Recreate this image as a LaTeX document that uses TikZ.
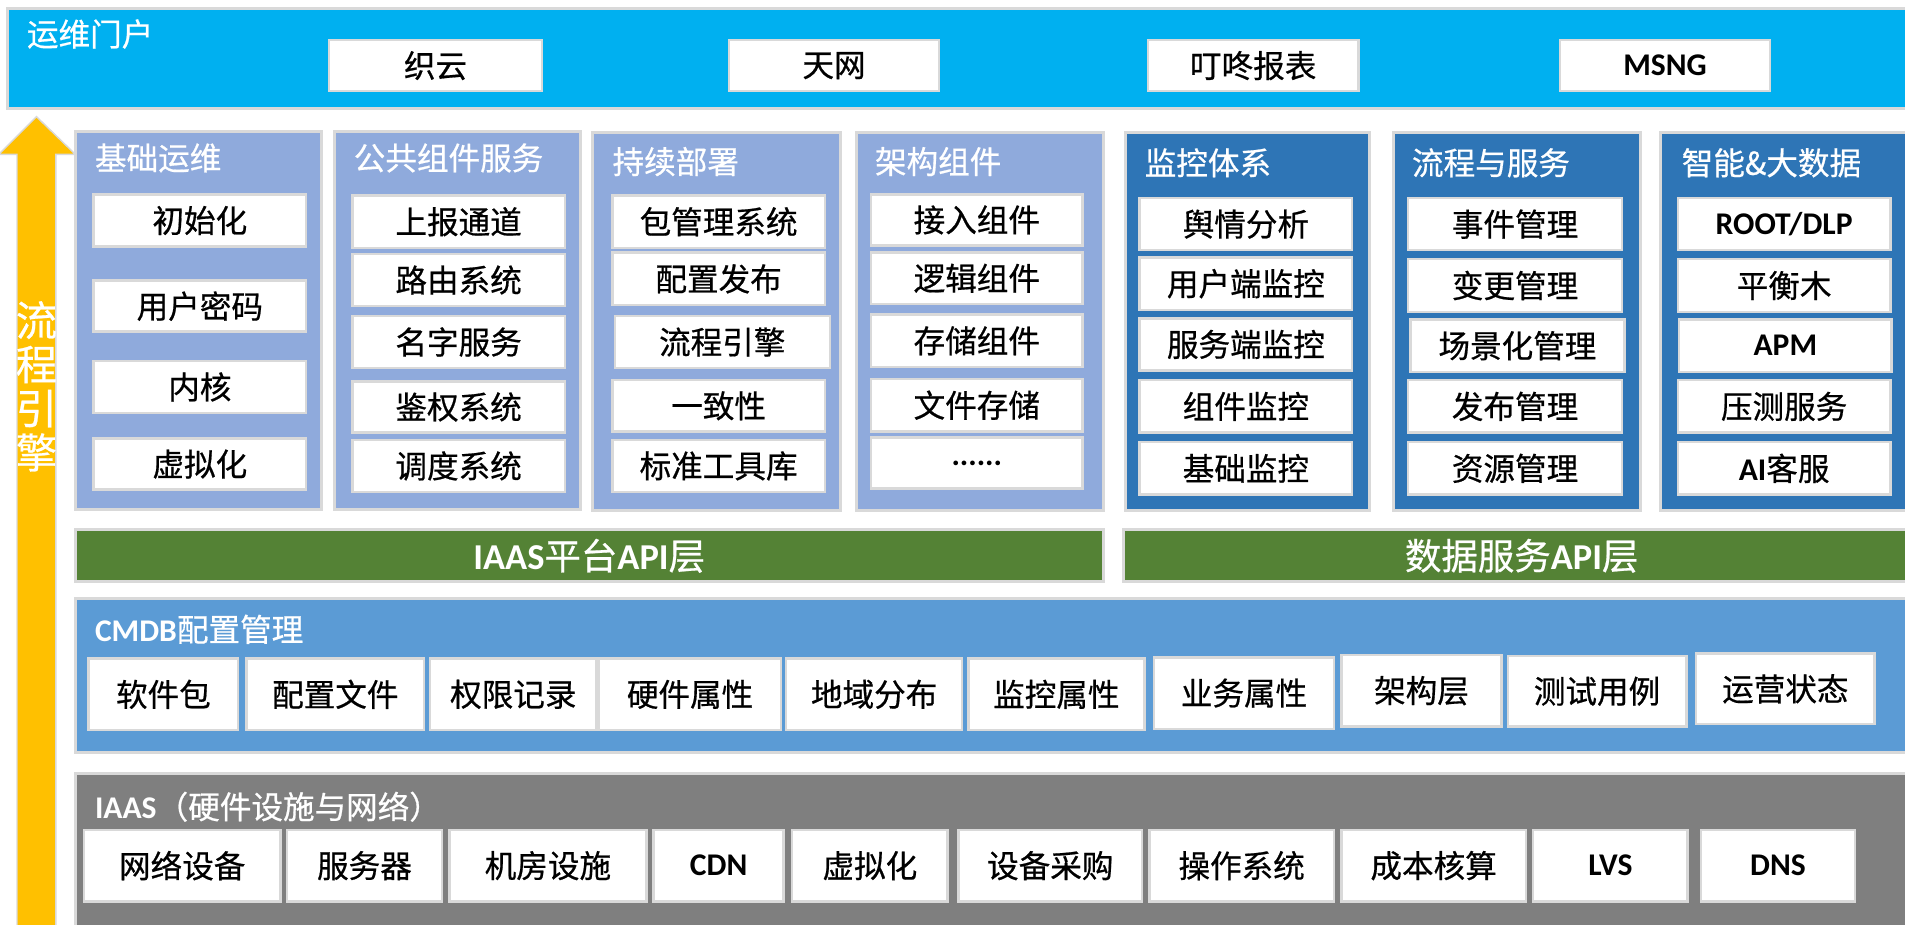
\documentclass[tikz,border=0pt]{standalone}
\usepackage{fontspec}
\setmainfont{Noto Sans CJK SC}[FakeBold=0.6]
\newfontfamily\latf{Carlito}
\newcommand\lb[1]{{\latf\bfseries #1}}
\definecolor{topblue}{HTML}{00B0F0}
\definecolor{lightp}{HTML}{8FAADC}
\definecolor{darkp}{HTML}{2E75B6}
\definecolor{apigreen}{HTML}{548235}
\definecolor{cmdbblue}{HTML}{5B9BD5}
\definecolor{iaasgray}{HTML}{7F7F7F}
\definecolor{arroworange}{HTML}{FFC000}
\definecolor{bordergray}{HTML}{D9D9D9}
\tikzset{
  wbox/.style={draw=bordergray, line width=2pt, fill=white, inner sep=0pt, text=black,
    font=\fontsize{26}{26}\selectfont},
  panel/.style={draw=bordergray, line width=2.5pt, inner sep=0pt},
  ptitle/.style={anchor=west, inner sep=0pt, text=white, font=\fontsize{26}{26}\selectfont},
  gbar/.style={panel, fill=apigreen, text=white, font=\fontsize{30}{30}\selectfont},
}
\newcommand\bx[6]{\node[#1,minimum width={#4-#2},minimum height={#5-#3}] (#6) at ({(#2+#4)/2},{(#3+#5)/2})}
\begin{document}
\begin{tikzpicture}[x=1pt,y=-1pt]
\useasboundingbox (0,0) rectangle (1568,761);
% top portal bar
\bx{panel,fill=topblue}{6}{7}{1580}{89}{top}{};
\node[ptitle] (toptitle) at (22,28) {运维门户};
\bx{wbox}{271}{33}{446}{75}{t1}{织云};
\bx{wbox}{600}{33}{773}{75}{t2}{天网};
\bx{wbox}{945}{33}{1118}{75}{t3}{叮咚报表};
\bx{wbox}{1284}{33}{1457}{75}{t4}{\lb{MSNG}};
% arrow
\path[fill=arroworange, draw=bordergray, line width=1.2pt]
  (14,775) -- (14,127) -- (-1,127) -- (30,96) -- (62,127) -- (46,127) -- (46,775) -- cycle;
\node[text=white, font=\fontsize{34}{36.3}\selectfont, align=center, inner sep=0pt] (flow) at (30,318) {流\\程\\引\\擎};
% panels
\bx{panel,fill=lightp}{62}{108}{265}{419}{p1}{};
\bx{panel,fill=lightp}{275}{108}{478}{419}{p2}{};
\bx{panel,fill=lightp}{488}{109}{692}{420}{p3}{};
\bx{panel,fill=lightp}{705}{109}{908}{420}{p4}{};
\bx{panel,fill=darkp}{926}{109}{1127}{420}{p5}{};
\bx{panel,fill=darkp}{1147}{109}{1350}{420}{p6}{};
\bx{panel,fill=darkp}{1367}{109}{1580}{420}{p7}{};
\node[ptitle] (p1t) at (78,130) {基础运维};
\node[ptitle] (p2t) at (291,130) {公共组件服务};
\node[ptitle] (p3t) at (504,133) {持续部署};
\node[ptitle] (p4t) at (720,133) {架构组件};
\node[ptitle] (p5t) at (942,134) {监控体系};
\node[ptitle] (p6t) at (1162,134) {流程与服务};
\node[ptitle] (p7t) at (1384,134) {智能\&大数据};
% p1
\bx{wbox}{77}{160}{252}{203}{a1}{初始化};
\bx{wbox}{77}{231}{252}{273}{a2}{用户密码};
\bx{wbox}{77}{297}{252}{340}{a3}{内核};
\bx{wbox}{77}{361}{252}{403}{a4}{虚拟化};
% p2
\bx{wbox}{290}{161}{465}{204}{b1}{上报通道};
\bx{wbox}{290}{209}{465}{252}{b2}{路由系统};
\bx{wbox}{290}{260}{465}{303}{b3}{名字服务};
\bx{wbox}{290}{314}{465}{356}{b4}{鉴权系统};
\bx{wbox}{290}{362}{465}{405}{b5}{调度系统};
% p3
\bx{wbox}{504}{161}{679}{204}{c1}{包管理系统};
\bx{wbox}{504}{208}{679}{251}{c2}{配置发布};
\bx{wbox}{506}{260}{683}{303}{c3}{流程引擎};
\bx{wbox}{504}{313}{679}{355}{c4}{一致性};
\bx{wbox}{504}{362}{679}{405}{c5}{标准工具库};
% p4
\bx{wbox}{717}{160}{891}{202}{d1}{接入组件};
\bx{wbox}{717}{208}{891}{250}{d2}{逻辑组件};
\bx{wbox}{717}{259}{891}{302}{d3}{存储组件};
\bx{wbox}{717}{312}{891}{355}{d4}{文件存储};
\bx{wbox}{717}{360}{891}{402}{d5}{\lb{......}};
% p5
\bx{wbox}{938}{163}{1113}{206}{e1}{舆情分析};
\bx{wbox}{938}{212}{1113}{255}{e2}{用户端监控};
\bx{wbox}{938}{262}{1113}{305}{e3}{服务端监控};
\bx{wbox}{938}{313}{1113}{356}{e4}{组件监控};
\bx{wbox}{938}{364}{1113}{407}{e5}{基础监控};
% p6
\bx{wbox}{1159}{163}{1335}{206}{f1}{事件管理};
\bx{wbox}{1159}{213}{1335}{257}{f2}{变更管理};
\bx{wbox}{1161}{263}{1337}{306}{f3}{场景化管理};
\bx{wbox}{1159}{313}{1335}{356}{f4}{发布管理};
\bx{wbox}{1159}{364}{1335}{407}{f5}{资源管理};
% p7
\bx{wbox}{1381}{163}{1556}{206}{h1}{\lb{ROOT/DLP}};
\bx{wbox}{1381}{213}{1556}{257}{h2}{平衡木};
\bx{wbox}{1382}{263}{1557}{306}{h3}{\lb{APM}};
\bx{wbox}{1381}{313}{1556}{356}{h4}{压测服务};
\bx{wbox}{1381}{364}{1556}{407}{h5}{\lb{AI}客服};
% API layers
\bx{gbar}{62}{436}{908}{479}{g1}{\lb{IAAS}平台\lb{API}层};
\bx{gbar}{925}{436}{1580}{479}{g2}{数据服务\lb{API}层};
% CMDB
\bx{panel,fill=cmdbblue}{62}{493}{1580}{619}{cm}{};
\node[ptitle] (cmt) at (78,518) {\lb{CMDB}配置管理};
\bx{wbox}{73}{542}{196}{601}{m1}{软件包};
\bx{wbox}{203}{542}{349}{601}{m2}{配置文件};
\bx{wbox}{354}{542}{491}{601}{m3}{权限记录};
\bx{wbox}{493}{542}{643}{601}{m4}{硬件属性};
\bx{wbox}{647}{542}{792}{601}{m5}{地域分布};
\bx{wbox}{797}{542}{942}{601}{m6}{监控属性};
\bx{wbox}{950}{541}{1098}{600}{m7}{业务属性};
\bx{wbox}{1104}{539}{1236}{598}{m8}{架构层};
\bx{wbox}{1241}{540}{1388}{598}{m9}{测试用例};
\bx{wbox}{1396}{538}{1543}{596}{m10}{运营状态};
% IAAS
\bx{panel,fill=iaasgray}{62}{637}{1580}{775}{ia}{};
\node[ptitle] (iat) at (78,664) {\lb{IAAS}（硬件设施与网络）};
\bx{wbox}{69}{683}{231}{742}{n1}{网络设备};
\bx{wbox}{236}{683}{364}{742}{n2}{服务器};
\bx{wbox}{370}{683}{532}{742}{n3}{机房设施};
\bx{wbox}{538}{683}{645}{742}{n4}{\lb{CDN}};
\bx{wbox}{652}{683}{780}{742}{n5}{虚拟化};
\bx{wbox}{789}{683}{940}{742}{n6}{设备采购};
\bx{wbox}{946}{683}{1098}{742}{n7}{操作系统};
\bx{wbox}{1104}{683}{1256}{742}{n8}{成本核算};
\bx{wbox}{1262}{683}{1389}{742}{n9}{\lb{LVS}};
\bx{wbox}{1400}{683}{1527}{742}{n10}{\lb{DNS}};
\end{tikzpicture}
\end{document}
